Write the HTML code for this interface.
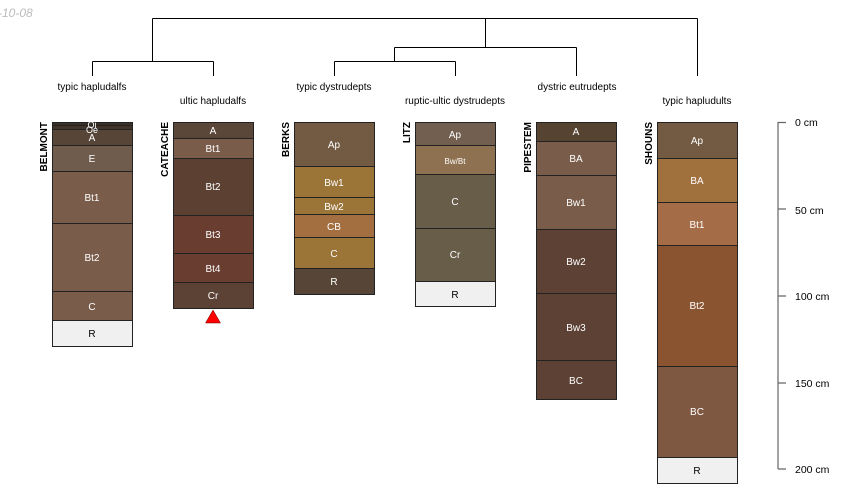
<!DOCTYPE html>
<html><head><meta charset="utf-8"><style>
html,body{margin:0;padding:0;background:#fff;}
svg{display:block;font-family:"Liberation Sans",sans-serif;}
</style></head><body>
<svg width="850" height="500" viewBox="0 0 850 500" xmlns="http://www.w3.org/2000/svg">
<text x="-2" y="17" font-size="12" font-style="italic" fill="#bbb">-10-08</text>
<g stroke="#000" stroke-width="1" fill="none">
<path d="M152.5 18.5H697.5M152.5 18.5V61.5M92.5 61.5H213.5M92.5 61.5V76M213.5 61.5V76"/>
<path d="M485.5 18.5V47.5M394.5 47.5H576.5M576.5 47.5V76M394.5 47.5V61.5M334.5 61.5H455.5M334.5 61.5V76M455.5 61.5V76M697.5 18.5V76"/>
</g>
<g font-size="10" fill="#000" text-anchor="middle">
<text x="92" y="90">typic hapludalfs</text>
<text x="213" y="104">ultic hapludalfs</text>
<text x="334" y="90">typic dystrudepts</text>
<text x="455" y="104">ruptic-ultic dystrudepts</text>
<text x="577" y="90">dystric eutrudepts</text>
<text x="697" y="104">typic hapludults</text>
</g>
<g font-size="10" font-weight="bold" fill="#000">
<text transform="translate(47,122) rotate(-90)" text-anchor="end">BELMONT</text>
<text transform="translate(168,122) rotate(-90)" text-anchor="end">CATEACHE</text>
<text transform="translate(289,122) rotate(-90)" text-anchor="end">BERKS</text>
<text transform="translate(410,122) rotate(-90)" text-anchor="end">LITZ</text>
<text transform="translate(531,122) rotate(-90)" text-anchor="end">PIPESTEM</text>
<text transform="translate(652,122) rotate(-90)" text-anchor="end">SHOUNS</text>
</g>
<g stroke="#222" stroke-width="1" font-size="10" text-anchor="middle">
<!-- BELMONT -->
<rect x="52.5" y="122.5" width="80" height="3" fill="#3b3028"/>
<rect x="52.5" y="125.5" width="80" height="4" fill="#40342b"/>
<rect x="52.5" y="129.5" width="80" height="16" fill="#574637"/>
<rect x="52.5" y="145.5" width="80" height="26" fill="#6f5c4c"/>
<rect x="52.5" y="171.5" width="80" height="52" fill="#7a5c4b"/>
<rect x="52.5" y="223.5" width="80" height="68" fill="#7a5c4b"/>
<rect x="52.5" y="291.5" width="80" height="29" fill="#7a5c4b"/>
<rect x="52.5" y="320.5" width="80" height="26" fill="#f0f0f0"/>
<!-- CATEACHE -->
<rect x="173.5" y="122.5" width="80" height="16" fill="#5a473a"/>
<rect x="173.5" y="138.5" width="80" height="20" fill="#7a5c4b"/>
<rect x="173.5" y="158.5" width="80" height="57" fill="#5c4132"/>
<rect x="173.5" y="215.5" width="80" height="38" fill="#693d30"/>
<rect x="173.5" y="253.5" width="80" height="29" fill="#693d30"/>
<rect x="173.5" y="282.5" width="80" height="26" fill="#5c4135"/>
<!-- BERKS -->
<rect x="294.5" y="122.5" width="80" height="44" fill="#725b42"/>
<rect x="294.5" y="166.5" width="80" height="31" fill="#9b7438"/>
<rect x="294.5" y="197.5" width="80" height="17" fill="#9b7438"/>
<rect x="294.5" y="214.5" width="80" height="23" fill="#a36f40"/>
<rect x="294.5" y="237.5" width="80" height="31" fill="#9b7438"/>
<rect x="294.5" y="268.5" width="80" height="26" fill="#574637"/>
<!-- LITZ -->
<rect x="415.5" y="122.5" width="80" height="23" fill="#725f50"/>
<rect x="415.5" y="145.5" width="80" height="29" fill="#8e7150"/>
<rect x="415.5" y="174.5" width="80" height="54" fill="#675d49"/>
<rect x="415.5" y="228.5" width="80" height="53" fill="#675d49"/>
<rect x="415.5" y="281.5" width="80" height="25" fill="#f0f0f0"/>
<!-- PIPESTEM -->
<rect x="536.5" y="122.5" width="80" height="19" fill="#574331"/>
<rect x="536.5" y="141.5" width="80" height="34" fill="#7a5c4b"/>
<rect x="536.5" y="175.5" width="80" height="54" fill="#7a5c4b"/>
<rect x="536.5" y="229.5" width="80" height="64" fill="#5d4135"/>
<rect x="536.5" y="293.5" width="80" height="67" fill="#5d4135"/>
<rect x="536.5" y="360.5" width="80" height="39" fill="#5d4135"/>
<!-- SHOUNS -->
<rect x="657.5" y="122.5" width="80" height="36" fill="#725b42"/>
<rect x="657.5" y="158.5" width="80" height="44" fill="#a0703d"/>
<rect x="657.5" y="202.5" width="80" height="43" fill="#a56c48"/>
<rect x="657.5" y="245.5" width="80" height="121" fill="#8b5430"/>
<rect x="657.5" y="366.5" width="80" height="91" fill="#7e5840"/>
<rect x="657.5" y="457.5" width="80" height="26" fill="#f0f0f0"/>
</g>
<g font-size="10" fill="#fff" text-anchor="middle" stroke="none">
<text x="92" y="128" font-size="9">Oi</text><text x="92" y="133" font-size="9">Oe</text><text x="92" y="141">A</text>
<text x="92" y="162">E</text><text x="92" y="201">Bt1</text><text x="92" y="261">Bt2</text><text x="92" y="310">C</text>
<text x="92" y="337" fill="#000">R</text>
<text x="213" y="134">A</text><text x="213" y="152">Bt1</text><text x="213" y="190">Bt2</text><text x="213" y="238">Bt3</text><text x="213" y="272">Bt4</text><text x="213" y="299">Cr</text>
<text x="334" y="148">Ap</text><text x="334" y="186">Bw1</text><text x="334" y="210">Bw2</text><text x="334" y="230">CB</text><text x="334" y="257">C</text><text x="334" y="285" >R</text>
<text x="455" y="138">Ap</text><text x="455" y="164" font-size="8">Bw/Bt</text><text x="455" y="205">C</text><text x="455" y="258">Cr</text><text x="455" y="298" fill="#000">R</text>
<text x="576" y="135">A</text><text x="576" y="162">BA</text><text x="576" y="206">Bw1</text><text x="576" y="265">Bw2</text><text x="576" y="331">Bw3</text><text x="576" y="384">BC</text>
<text x="697" y="144">Ap</text><text x="697" y="184">BA</text><text x="697" y="228">Bt1</text><text x="697" y="309">Bt2</text><text x="697" y="415">BC</text><text x="697" y="474" fill="#000">R</text>
</g>
<polygon points="213,310 205.5,323 220.5,323" fill="#f00" stroke="#600" stroke-width="0.5"/>
<g stroke="#666" stroke-width="1.2" fill="none">
<path d="M778 122V469M778 122.5H786M778 209H786M778 296H786M778 383H786M778 469H786"/>
</g>
<g font-size="10.5" fill="#000">
<text x="795" y="126">0 cm</text><text x="795" y="214">50 cm</text><text x="795" y="300">100 cm</text><text x="795" y="387">150 cm</text><text x="795" y="473">200 cm</text>
</g>
</svg>
</body></html>
